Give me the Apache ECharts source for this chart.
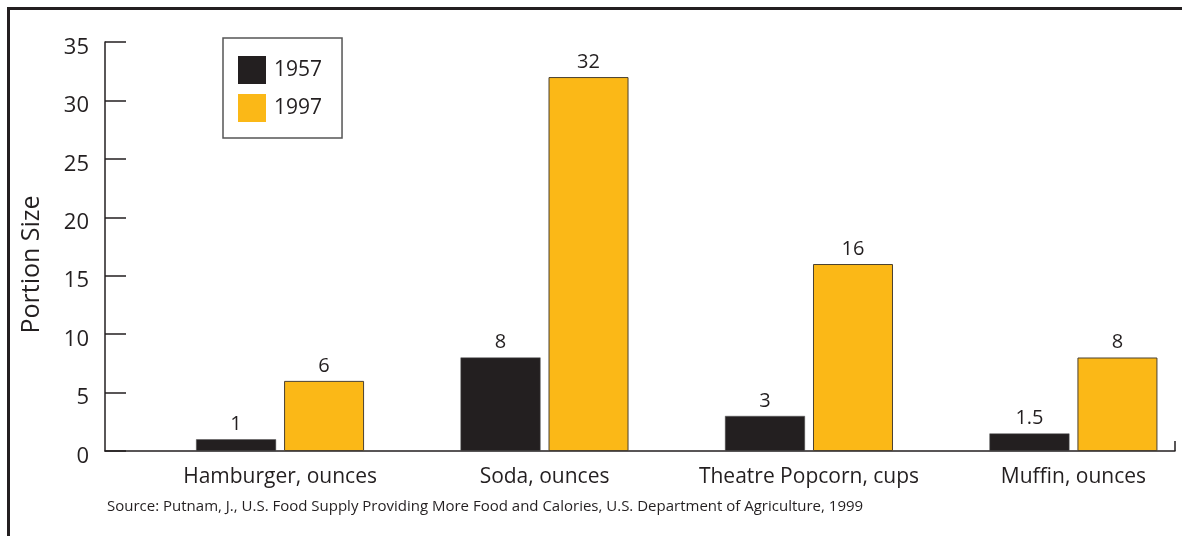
<!DOCTYPE html>
<html>
<head>
<meta charset="utf-8">
<script src="https://cdn.jsdelivr.net/npm/echarts@6/dist/echarts.min.js"></script>
<style>
  html, body { margin: 0; padding: 0; background: #fff; }
  #chart { width: 1182px; height: 536px; }
</style>
</head>
<body>
<div id="chart"></div>
<script>
// Portion sizes, 1957 vs 1997
const categories = ['Hamburger, ounces', 'Soda, ounces', 'Theatre Popcorn, cups', 'Muffin, ounces'];
const values1957 = [1, 8, 3, 1.5];
const values1997 = [6, 32, 16, 8];
const seriesNames = ['1957', '1997'];
const yTicks = { min: 0, max: 35, interval: 5 };
const sourceNote = 'Source: Putnam, J., U.S. Food Supply Providing More Food and Calories, U.S. Department of Agriculture, 1999';

const INK = '#231f20';
const GOLD = '#fbb817';
const FONT = 'Open Sans';

// category slots sit on a numeric axis; the baseline runs a little
// further on the left than on the right
const xMin = -0.662;
const xMax = 3.384;
const slots = categories.map((_, i) => i);

const chart = echarts.init(document.getElementById('chart'));

chart.setOption({
  backgroundColor: '#ffffff',
  animation: false,
  textStyle: { fontFamily: FONT, color: INK },
  grid: { left: 105, right: 7, top: 42, bottom: 85 },
  legend: {
    data: seriesNames,
    orient: 'vertical',
    left: 223,
    top: 38,
    icon: 'rect',
    itemWidth: 28,
    itemHeight: 28,
    itemGap: 10,
    padding: [18, 20, 16, 15],
    borderColor: '#555',
    borderWidth: 1.5,
    itemStyle: { borderWidth: 0 },
    textStyle: { fontFamily: FONT, fontSize: 21, color: INK, padding: [2, 0, 0, 3] }
  },
  xAxis: {
    type: 'value',
    min: xMin,
    max: xMax,
    axisLine: { show: true, onZero: false, lineStyle: { color: INK, width: 1.5 } },
    axisTick: {
      show: true,
      inside: true,
      length: 10,
      customValues: [xMax],
      lineStyle: { color: INK, width: 1.5 }
    },
    axisLabel: {
      customValues: slots,
      formatter: (v) => categories[Math.round(v)],
      fontFamily: FONT,
      fontSize: 21,
      color: INK,
      margin: 16
    },
    splitLine: { show: false }
  },
  yAxis: {
    type: 'value',
    min: yTicks.min,
    max: yTicks.max,
    interval: yTicks.interval,
    name: 'Portion Size',
    nameLocation: 'middle',
    nameGap: 61,
    nameTextStyle: { fontFamily: FONT, fontSize: 25, color: INK, padding: [0, 36, 0, 0] },
    axisLine: { show: true, onZero: false, lineStyle: { color: INK, width: 1.5 } },
    axisTick: { show: true, inside: true, length: 21, lineStyle: { color: INK, width: 1.5 } },
    axisLabel: {
      margin: 16,
      // an empty spacer line above each number sets it just below its tick
      formatter: (v) => '{g|}\n{n|' + v + '}',
      rich: {
        g: { height: 11, fontSize: 1 },
        n: { fontFamily: FONT, fontSize: 22, color: INK, height: 26 }
      }
    },
    splitLine: { show: false }
  },
  series: [
    {
      name: seriesNames[0],
      type: 'bar',
      data: values1957.map((v, i) => [slots[i], v]),
      barWidth: 80,
      barGap: '10%',
      itemStyle: { color: INK, borderColor: '#555', borderWidth: 0.5 },
      label: {
        show: true, position: 'top', distance: 5,
        formatter: (p) => p.value[1],
        fontFamily: FONT, fontSize: 20, color: INK
      }
    },
    {
      name: seriesNames[1],
      type: 'bar',
      data: values1997.map((v, i) => [slots[i], v]),
      barWidth: 80,
      barGap: '10%',
      itemStyle: { color: GOLD, borderColor: '#4a4030', borderWidth: 1 },
      label: {
        show: true, position: 'top', distance: 5,
        formatter: (p) => p.value[1],
        fontFamily: FONT, fontSize: 20, color: INK
      }
    }
  ],
  graphic: [
    {
      type: 'polyline',
      shape: { points: [[8.5, 536], [8.5, 8.5], [1182, 8.5]] },
      style: { stroke: INK, lineWidth: 3, fill: null },
      silent: true
    },
    {
      type: 'text',
      left: 107,
      top: 499,
      style: { text: sourceNote, fontFamily: FONT, fontSize: 15, fill: INK }
    }
  ]
});
</script>
</body>
</html>
